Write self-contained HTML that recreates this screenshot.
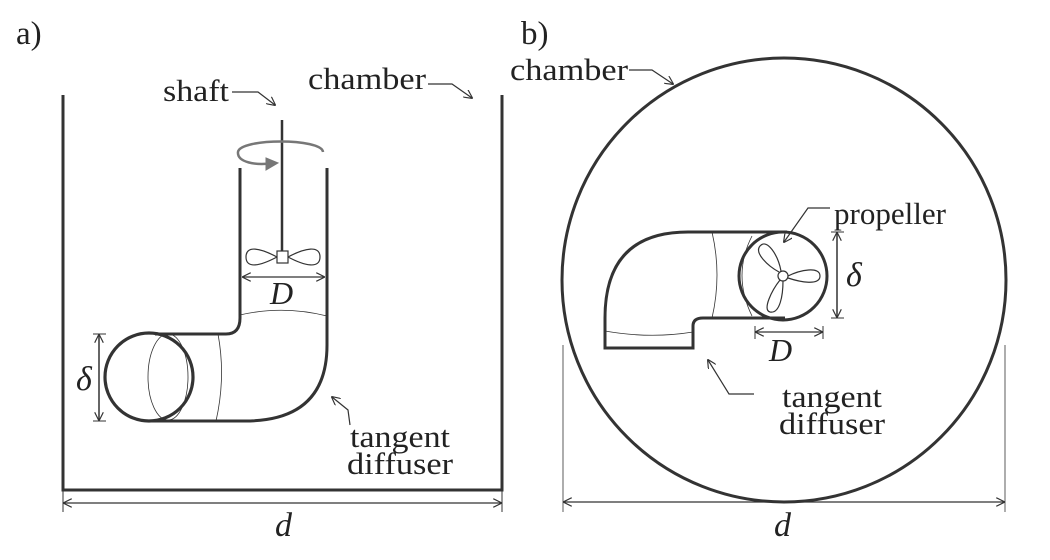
<!DOCTYPE html>
<html><head><meta charset="utf-8"><style>
html,body{margin:0;padding:0;background:#fff;}
svg{display:block;}
text{font-family:"Liberation Serif","Times New Roman",serif;fill:#222;}
</style></head><body>
<svg width="1050" height="560" viewBox="0 0 1050 560" xmlns="http://www.w3.org/2000/svg">
<defs>
<marker id="ah" viewBox="0 0 10 10" refX="9" refY="5" markerWidth="9" markerHeight="9" orient="auto-start-reverse" markerUnits="userSpaceOnUse"><path d="M0,0 L10,5 L0,10" fill="none" stroke="#333" stroke-width="1.3"/></marker>
</defs>
<g fill="none" stroke="#333">
<path d="M63,95 V490 H502 V95" stroke-width="3"/>
<line x1="63" y1="490" x2="63" y2="512" stroke-width="1"/>
<line x1="502" y1="490" x2="502" y2="512" stroke-width="1"/>
<line x1="64" y1="503" x2="501" y2="503" stroke-width="1.2" marker-start="url(#ah)" marker-end="url(#ah)"/>
<line x1="282" y1="120" x2="282" y2="252" stroke-width="2.5"/>
<path d="M323,152 C322,138 240,138 238,152 C237,162 255,166 274,163" stroke="#777" stroke-width="2.5"/>
<path d="M266,158 L278,163 L266,170 Z" fill="#777" stroke="#777" stroke-width="1"/>
<path d="M240,168 V318 Q240,334 226,334 H155" stroke-width="3"/>
<path d="M327,168 V345 Q327,421 245,421 H150" stroke-width="3"/>
<circle cx="149" cy="377" r="44" stroke-width="3.2"/>
<ellipse cx="168" cy="377" rx="20" ry="43" stroke-width="0.8"/>
<path d="M218,334 Q226,377 216,421" stroke-width="0.8"/>
<path d="M240,315 Q283,305 327,316" stroke-width="0.8"/>
<path d="M277,257 C260,248 246,245 246,257 C246,269 260,266 277,257 Z" stroke-width="1.2"/>
<path d="M288,257 C305,248 320,245 320,257 C320,269 305,266 288,257 Z" stroke-width="1.2"/>
<rect x="277" y="251" width="11" height="12" fill="#fff" stroke-width="1.2"/>
<line x1="243" y1="277" x2="324" y2="277" stroke-width="1.2" marker-start="url(#ah)" marker-end="url(#ah)"/>
<line x1="93" y1="334" x2="106" y2="334" stroke-width="1"/>
<line x1="93" y1="421" x2="106" y2="421" stroke-width="1"/>
<line x1="99" y1="335" x2="99" y2="420" stroke-width="1.5" marker-start="url(#ah)" marker-end="url(#ah)"/>
<path d="M232,92 H258 L275,105" stroke-width="1.2" marker-end="url(#ah)"/>
<path d="M428,84 H452 L472,98" stroke-width="1.2" marker-end="url(#ah)"/>
<path d="M350,425 L348,410 L332,397" stroke-width="1.2" marker-end="url(#ah)"/>

<circle cx="784" cy="280" r="222" stroke-width="3"/>
<line x1="563" y1="345" x2="563" y2="512" stroke-width="0.8"/>
<line x1="1005" y1="345" x2="1005" y2="512" stroke-width="0.8"/>
<line x1="564" y1="502" x2="1004" y2="502" stroke-width="1.2" marker-start="url(#ah)" marker-end="url(#ah)"/>
<path d="M629,70 H652 L673,84" stroke-width="1.2" marker-end="url(#ah)"/>
<path d="M787,232 H688 Q605,232 605,318 V348 H693 V326 Q693,318 703,318 H785" stroke-width="3"/>
<path d="M712,232 Q722,275 712,318" stroke-width="0.8"/>
<path d="M752,236 Q732,275 752,316" stroke-width="0.8"/>
<path d="M605,331 Q650,339 693,332" stroke-width="0.8"/>
<circle cx="783" cy="276" r="44" stroke-width="3"/>
<circle cx="783" cy="276" r="5" stroke-width="1.2"/>
<path d="M781,271 C778,255 767,238 760,246 C754,253 768,266 779,272" stroke-width="1.2"/>
<path d="M788,276 C800,270 820,266 820,276 C820,286 800,282 788,278" stroke-width="1.2"/>
<path d="M780,280 C772,290 762,310 770,312 C780,314 783,295 783,281" stroke-width="1.2"/>
<line x1="831" y1="232" x2="844" y2="232" stroke-width="1"/>
<line x1="831" y1="318" x2="844" y2="318" stroke-width="1"/>
<line x1="837" y1="233" x2="837" y2="317" stroke-width="1.5" marker-start="url(#ah)" marker-end="url(#ah)"/>
<line x1="755" y1="326" x2="755" y2="339" stroke-width="1"/>
<line x1="823" y1="326" x2="823" y2="339" stroke-width="1"/>
<line x1="756" y1="332" x2="822" y2="332" stroke-width="1.2" marker-start="url(#ah)" marker-end="url(#ah)"/>
<path d="M830,208 H808 L784,242" stroke-width="1.2" marker-end="url(#ah)"/>
<path d="M754,394 H729 L708,360" stroke-width="1.2" marker-end="url(#ah)"/>
</g>
<g font-size="31">
<text x="16" y="44" font-size="33">a)</text>
<text x="521" y="44" font-size="33">b)</text>
<text x="163" y="101" textLength="66" lengthAdjust="spacingAndGlyphs">shaft</text>
<text x="308" y="89" textLength="118" lengthAdjust="spacingAndGlyphs">chamber</text>
<text x="510" y="80" textLength="118" lengthAdjust="spacingAndGlyphs">chamber</text>
<text x="350" y="447" textLength="100" lengthAdjust="spacingAndGlyphs">tangent</text>
<text x="347" y="474" textLength="106" lengthAdjust="spacingAndGlyphs">diffuser</text>
<text x="834" y="224" textLength="112" lengthAdjust="spacingAndGlyphs">propeller</text>
<text x="782" y="407" textLength="100" lengthAdjust="spacingAndGlyphs">tangent</text>
<text x="779" y="434" textLength="106" lengthAdjust="spacingAndGlyphs">diffuser</text>
<text x="270" y="304" font-style="italic" font-size="32">D</text>
<text x="769" y="361" font-style="italic" font-size="32">D</text>
<text x="275" y="536" font-style="italic" font-size="34">d</text>
<text x="774" y="536" font-style="italic" font-size="34">d</text>
<text x="76" y="390" font-style="italic" font-size="34">δ</text>
<text x="846" y="286" font-style="italic" font-size="34">δ</text>
</g>
</svg>
</body></html>
